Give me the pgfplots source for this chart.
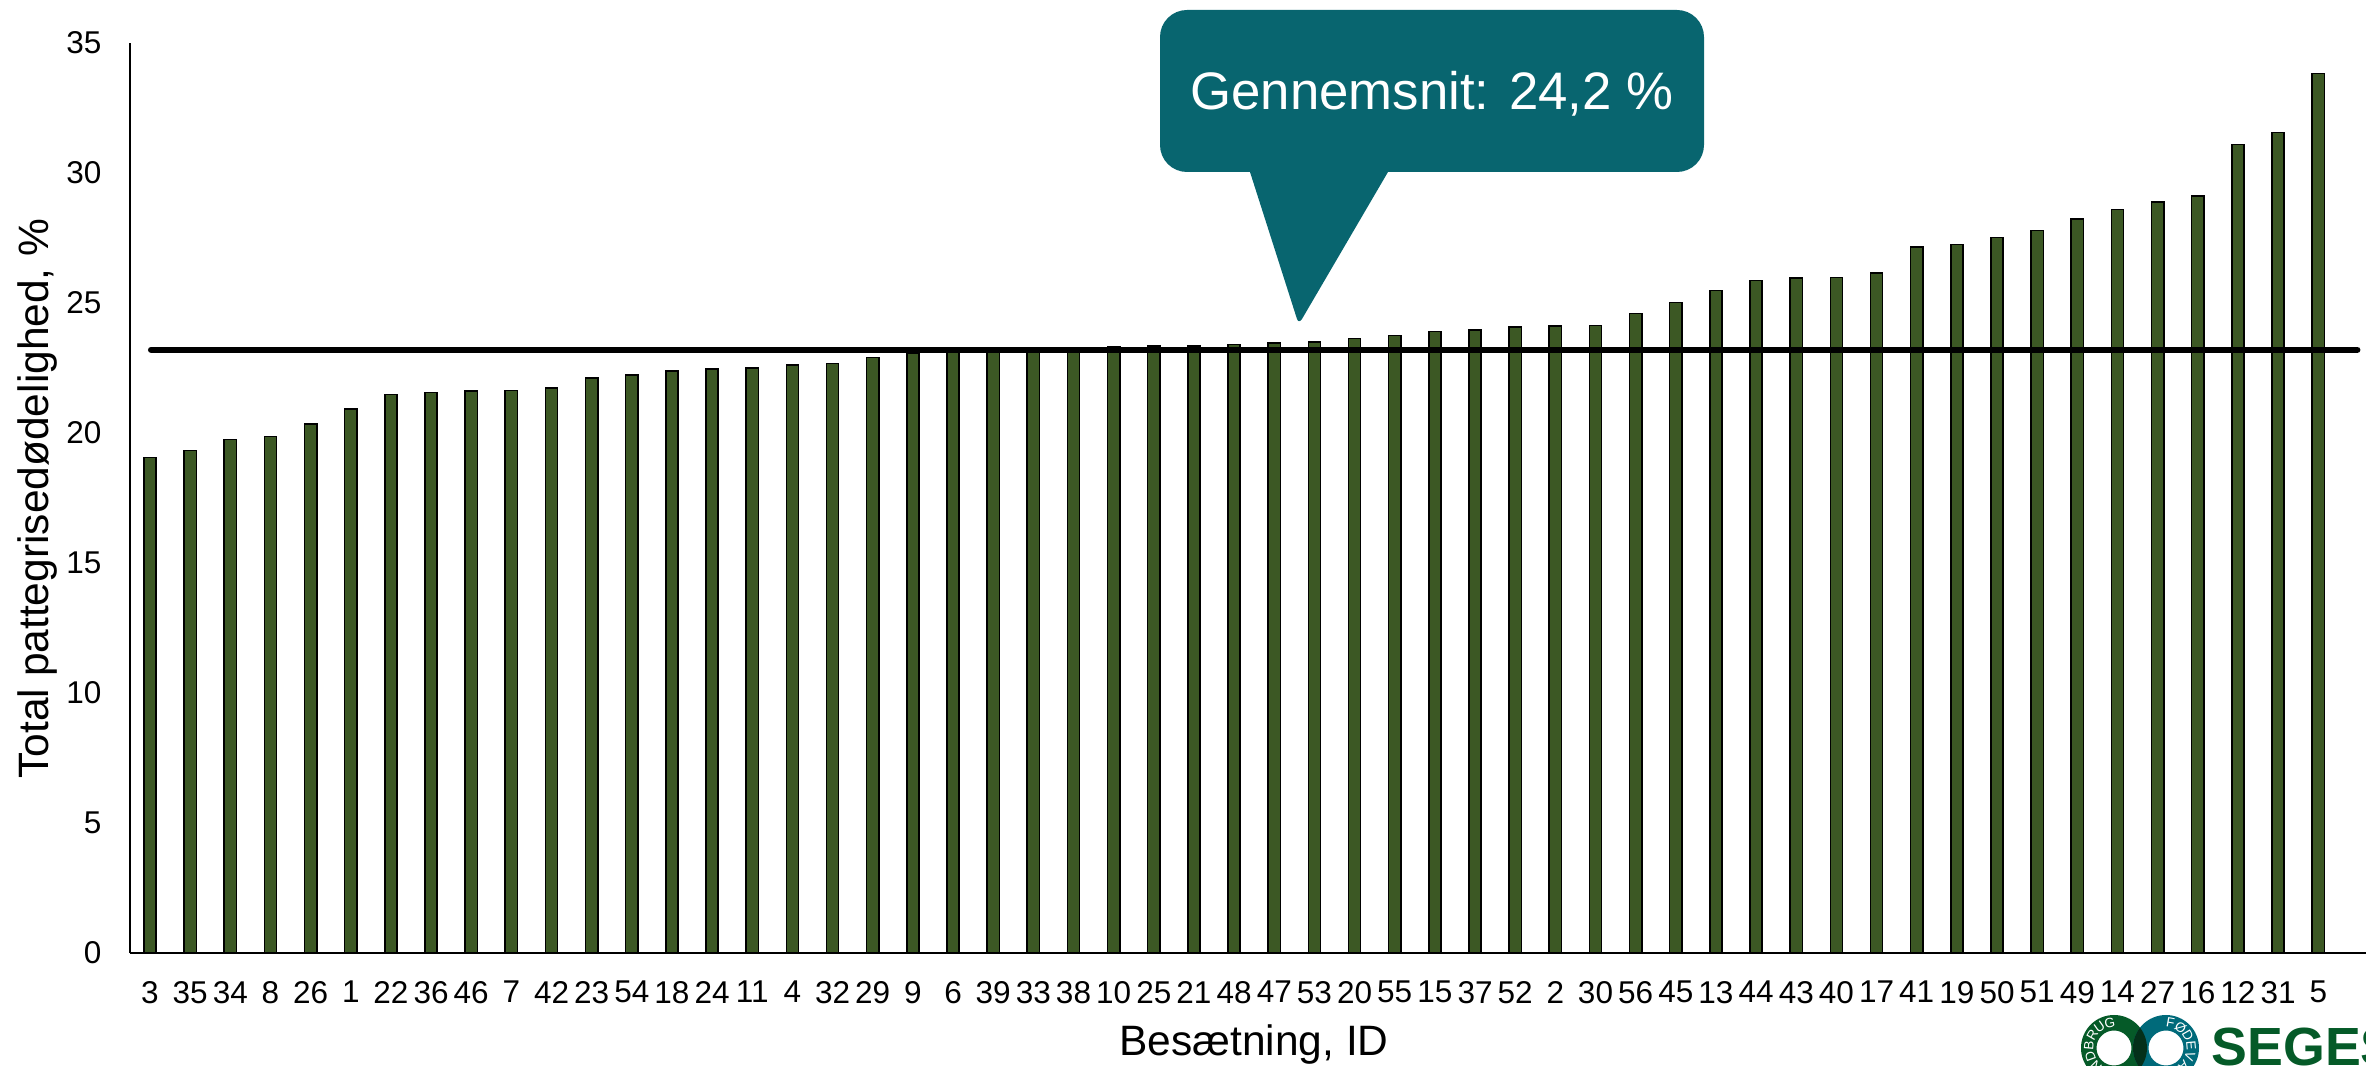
\documentclass[border=0pt]{standalone}
\usepackage{fontspec}
\setmainfont{Liberation Sans}
\usepackage{pgfplots}
\pgfplotsset{compat=1.18}
\definecolor{barg}{HTML}{3C5824}
\definecolor{teal1}{HTML}{08656F}
\definecolor{logog}{HTML}{055A28}
\definecolor{logot}{HTML}{006A7A}
\definecolor{logod}{HTML}{04301A}
\begin{document}
\begin{tikzpicture}
\useasboundingbox (0,0) rectangle (946.4pt,426pt);
\begin{axis}[
  at={(52pt,44.8pt)}, anchor=south west,
  scale only axis, width=894.4pt, height=364pt,
  xmin=-0.498, xmax=55.19, ymin=0, ymax=35,
  axis x line=bottom, axis y line=left,
  axis line style={-, line width=0.8pt, black},
  clip=false,
  major tick length=0pt,
  xtick={0,1,...,54},
  xticklabels={3,35,34,8,26,1,22,36,46,7,42,23,54,18,24,11,4,32,29,9,6,39,33,38,10,25,21,48,47,53,20,55,15,37,52,2,30,56,45,13,44,43,40,17,41,19,50,51,49,14,27,16,12,31,5},
  ytick={0,5,...,35},
  /pgf/number format/assume math mode=true,
  tick label style={font=\fontsize{12.6}{15}\selectfont, black},
  xticklabel style={inner sep=0pt, yshift=-11pt},
  yticklabel style={inner sep=0pt, xshift=-11.2pt},
  xlabel={Besætning, ID},
  ylabel={Total pattegrisedødelighed, \%},
  label style={font=\fontsize{17}{20}\selectfont},
  xlabel style={at={(axis description cs:0.5027,-0.1003)}, anchor=center, inner sep=0pt},
  ylabel style={at={(axis description cs:-0.0412,0.4995)}, anchor=center, inner sep=0pt},
]
\addplot[ybar, bar width=4.9pt, fill=barg, draw=black, line width=0.62pt] coordinates {
(0,19.05)(1,19.33)(2,19.75)(3,19.87)(4,20.34)(5,20.93)(6,21.48)(7,21.55)(8,21.62)(9,21.64)
(10,21.74)(11,22.11)(12,22.24)(13,22.39)(14,22.47)(15,22.51)(16,22.61)(17,22.67)(18,22.91)(19,23.07)
(20,23.12)(21,23.17)(22,23.22)(23,23.24)(24,23.33)(25,23.35)(26,23.35)(27,23.41)(28,23.46)(29,23.49)
(30,23.64)(31,23.75)(32,23.90)(33,23.96)(34,24.07)(35,24.12)(36,24.14)(37,24.60)(38,25.02)(39,25.48)
(40,25.87)(41,25.97)(42,25.98)(43,26.15)(44,27.15)(45,27.25)(46,27.52)(47,27.79)(48,28.23)(49,28.59)
(50,28.88)(51,29.11)(52,31.10)(53,31.55)(54,33.82)
};
\addplot[black, line width=2.6pt, line cap=round, mark=none] coordinates {(0.03,23.2)(54.97,23.2)};
\end{axis}
% callout
\begin{scope}[x=0.4pt,y=-0.4pt,yshift=426pt]
\fill[teal1] (1187,10) -- (1677,10) arc[start angle=90,end angle=0,radius=10.8pt] -- (1704,145)
  arc[start angle=0,end angle=-90,radius=10.8pt] -- (1388,172) -- (1302,319) .. controls (1300,322) and (1298,322) .. (1297,319)
  -- (1250,172) -- (1187,172) arc[start angle=-90,end angle=-180,radius=10.8pt] -- (1160,37)
  arc[start angle=180,end angle=90,radius=10.8pt] -- cycle;
\node[text=white, font=\fontsize{21.1}{25}\selectfont, inner sep=0pt] at (1432,94) {Gennemsnit: 24,2 \%};
% logo
\fill[logog, even odd rule] (2114,1048) circle[radius=13.2pt] (2114,1048) circle[radius=7pt];
\fill[logot, even odd rule] (2166,1048) circle[radius=13.2pt] (2166,1048) circle[radius=7pt];
\begin{scope}
\clip (2114,1048) circle[radius=13.2pt];
\fill[logod] (2166,1048) circle[radius=13.2pt];
\end{scope}
\node[anchor=base west, text=logog, font=\fontsize{21.5}{25}\selectfont\bfseries, inner sep=0pt] at (2211,1066) {SEGES};
\end{scope}
\foreach \a/\c in {100/G,125/U,150/R,175/B,200/D,225/N}
  \node[text=white, font=\fontsize{5.4}{6}\selectfont, inner sep=0pt, rotate=\a-90] at ([shift={(\a:10.1pt)}]845.6pt,6.8pt) {\c};
\foreach \a/\c in {80/F,55/Ø,30/D,5/E,-20/V,-45/A}
  \node[text=white, font=\fontsize{5.4}{6}\selectfont, inner sep=0pt, rotate=\a-90] at ([shift={(\a:10.1pt)}]866.4pt,6.8pt) {\c};
\end{tikzpicture}
\end{document}
